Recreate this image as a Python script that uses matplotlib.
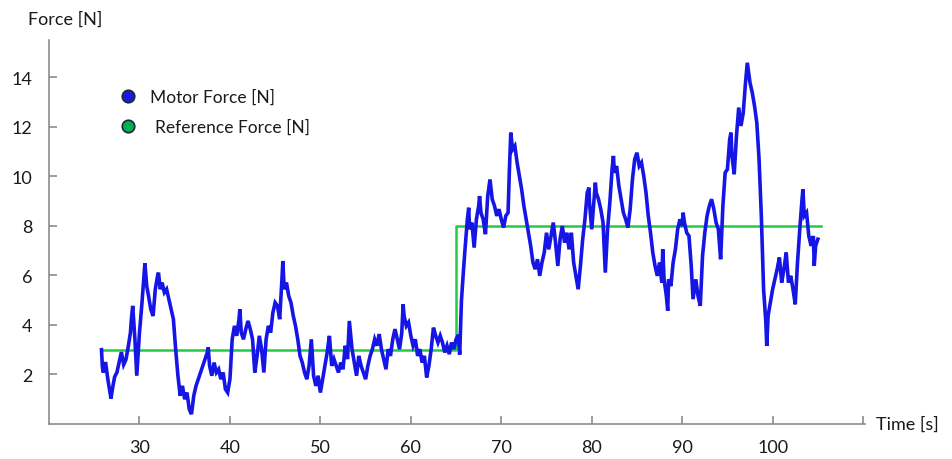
import matplotlib
matplotlib.use("Agg")
import matplotlib.pyplot as plt
from matplotlib.lines import Line2D

plt.rcParams['font.family'] = ['Lato', 'DejaVu Sans']

# ---- data ----
motor_t = [
    25.8, 25.9, 26.0, 26.25, 26.5, 26.85, 27.0, 27.25, 27.5, 27.75, 28.0, 28.25, 28.5, 28.75,
    29.0, 29.1, 29.25, 29.5, 29.7, 30.0, 30.25, 30.5, 30.6, 30.8, 31.0, 31.25, 31.5, 31.75,
    32.0, 32.1, 32.3, 32.5, 32.75, 33.0, 33.25, 33.5, 33.75, 34.0, 34.25, 34.5, 34.75,
    35.0, 35.25, 35.5, 35.75, 36.0, 36.25, 36.5, 36.75, 37.0, 37.25, 37.5, 37.6, 37.75,
    38.0, 38.25, 38.5, 38.75, 39.0, 39.25, 39.5, 39.75, 40.0, 40.25, 40.5, 40.75, 41.0,
    41.1, 41.25, 41.5, 41.75, 42.0, 42.25, 42.5, 42.75, 43.0, 43.25, 43.5, 43.75, 44.0,
    44.25, 44.5, 44.75, 45.0, 45.25, 45.5, 45.75, 45.85, 46.0, 46.25, 46.5, 46.75, 47.0,
    47.25, 47.5, 47.75, 48.0, 48.25, 48.5, 48.75, 49.0, 49.25, 49.5, 49.75, 50.0, 50.25,
    50.5, 50.75, 51.0, 51.25, 51.5, 51.75, 52.0, 52.25, 52.5, 52.75, 53.0, 53.2, 53.5,
    53.75, 54.0, 54.25, 54.5, 54.75, 55.0, 55.25, 55.5, 55.75, 56.0, 56.25, 56.5, 56.75,
    57.0, 57.25, 57.5, 57.75, 58.0, 58.25, 58.5, 58.75, 59.0, 59.15, 59.25, 59.5, 59.75,
    60.0, 60.25, 60.5, 60.75, 61.0, 61.25, 61.5, 61.75, 62.0, 62.25, 62.5, 62.75, 63.0,
    63.25, 63.5, 63.75, 64.0, 64.25, 64.5, 64.75, 65.0, 65.25, 65.4, 65.6, 65.8, 66.0,
    66.25, 66.4, 66.5, 66.75, 67.0, 67.25, 67.5, 67.6, 67.75, 68.0, 68.25, 68.5, 68.75,
    69.0, 69.25, 69.5, 69.75, 70.0, 70.25, 70.5, 70.75, 70.9, 71.05, 71.25, 71.5, 71.75,
    72.0, 72.25, 72.5, 72.75, 73.0, 73.25, 73.5, 73.75, 74.0, 74.25, 74.5, 74.75, 75.0,
    75.25, 75.5, 75.75, 76.0, 76.25, 76.5, 76.75, 77.0, 77.25, 77.5, 77.75, 78.0, 78.25,
    78.5, 78.75, 79.0, 79.25, 79.5, 79.7, 79.75, 80.0, 80.25, 80.4, 80.5, 80.75, 81.0,
    81.25, 81.5, 81.75, 82.0, 82.25, 82.4, 82.5, 82.75, 83.0, 83.25, 83.5, 83.75, 84.0,
    84.25, 84.5, 84.75, 85.0, 85.25, 85.5, 85.75, 86.0, 86.25, 86.5, 86.75, 87.0, 87.25,
    87.5, 87.75, 87.85, 88.0, 88.25, 88.4, 88.5, 88.75, 89.0, 89.25, 89.5, 89.75, 90.0,
    90.1, 90.25, 90.5, 90.75, 91.0, 91.2, 91.5, 91.75, 92.0, 92.25, 92.5, 92.75, 93.0,
    93.25, 93.5, 93.75, 94.0, 94.25, 94.5, 94.75, 95.0, 95.25, 95.4, 95.5, 95.75, 96.0,
    96.25, 96.5, 96.75, 97.0, 97.2, 97.5, 97.75, 98.0, 98.25, 98.5, 98.75, 99.0, 99.25,
    99.35, 99.5, 99.75, 100.0, 100.25, 100.5, 100.75, 101.0, 101.25, 101.5, 101.75, 102.0,
    102.25, 102.5, 102.75, 103.0, 103.25, 103.35, 103.5, 103.75, 104.0, 104.25, 104.5,
    104.6, 104.75, 105.0,
]
motor_force = [
    3.0, 2.3, 2.08, 2.5, 1.81, 1.03, 1.4, 1.9, 2.08, 2.5, 2.9, 2.4, 2.6, 3.1,
    3.69, 4.2, 4.77, 3.4, 1.95, 3.7, 4.77, 5.98, 6.49, 5.57, 5.17, 4.63, 4.36, 5.44,
    5.98, 6.11, 5.44, 5.71, 5.31, 5.44, 5.04, 4.63, 4.23, 3.02, 1.95, 1.14, 1.54,
    1.0, 1.27, 0.6, 0.4, 1.14, 1.54, 1.81, 2.08, 2.35, 2.62, 2.89, 3.09, 2.35,
    1.95, 2.48, 2.08, 2.21, 1.81, 2.08, 1.41, 1.27, 1.81, 3.42, 3.96, 3.56, 4.23,
    4.63, 3.69, 3.42, 3.83, 4.16, 3.83, 3.42, 2.08, 2.75, 3.56, 3.02, 2.08, 3.42,
    3.96, 3.69, 4.5, 4.9, 4.77, 4.23, 5.84, 6.58, 5.44, 5.71, 5.17, 4.9, 4.37,
    3.96, 3.42, 2.75, 2.48, 2.08, 1.81, 2.35, 3.42, 1.95, 1.54, 1.95, 1.27, 1.81,
    2.35, 2.89, 3.56, 2.35, 2.62, 2.35, 2.08, 2.48, 2.21, 3.16, 2.62, 4.16, 3.02,
    2.48, 1.95, 2.75, 2.35, 2.08, 1.81, 2.35, 2.75, 3.02, 3.42, 3.16, 3.63, 3.02,
    2.62, 2.21, 3.02, 2.75, 3.42, 3.83, 3.42, 3.02, 3.69, 4.83, 4.37, 3.96, 4.1,
    3.56, 3.16, 3.42, 2.75, 3.02, 2.48, 2.75, 1.88, 2.35, 3.02, 3.89, 3.56, 3.29,
    3.56, 3.29, 2.89, 3.16, 2.82, 3.29, 3.02, 3.42, 3.6, 2.8, 5.0, 6.1, 7.1,
    8.26, 8.73, 7.86, 8.13, 7.12, 8.26, 8.8, 9.2, 8.53, 8.26, 7.66, 9.2, 9.87,
    9.07, 8.8, 8.4, 8.67, 8.26, 7.93, 8.4, 8.53, 10.28, 11.76, 11.08, 11.22, 10.55,
    10.01, 9.47, 8.8, 8.26, 7.72, 7.19, 6.52, 6.25, 6.65, 5.98, 6.52, 6.92, 7.72,
    7.05, 7.59, 8.13, 7.32, 6.38, 7.46, 7.99, 7.32, 7.72, 7.05, 7.72, 6.52, 5.98,
    5.44, 6.38, 7.46, 8.26, 9.34, 9.54, 8.93, 7.86, 9.07, 9.74, 9.34, 9.07, 8.67,
    8.13, 6.11, 7.86, 8.93, 10.28, 10.82, 10.14, 10.41, 9.61, 9.07, 8.53, 8.26, 7.93,
    8.67, 9.87, 10.68, 10.95, 10.41, 10.55, 10.01, 9.34, 8.4, 7.72, 6.92, 6.38, 5.98,
    6.52, 5.71, 7.05, 5.84, 5.17, 4.57, 5.84, 5.57, 6.52, 7.05, 7.86, 8.26, 7.99,
    8.53, 8.13, 7.72, 7.59, 6.38, 5.04, 5.84, 5.17, 4.77, 6.78, 7.72, 8.4, 8.8,
    9.07, 8.67, 8.13, 7.86, 6.65, 8.8, 10.14, 10.28, 11.49, 11.76, 10.82, 10.08, 11.62,
    12.77, 12.03, 12.56, 13.77, 14.58, 13.77, 13.37, 12.83, 12.16, 10.68, 8.4, 5.44, 4.1,
    3.15, 4.37, 4.9, 5.44, 5.84, 6.25, 6.72, 5.71, 6.25, 6.92, 5.71, 5.98,
    5.44, 4.83, 6.52, 7.86, 9.07, 9.47, 8.4, 8.53, 7.59, 7.19, 7.59,
    6.38, 7.19, 7.46,
]
ref_t = [26.0, 65.0, 65.0, 105.3]
ref_force = [3.0, 3.0, 8.0, 8.0]

x_ticks = [30, 40, 50, 60, 70, 80, 90, 100]
y_ticks = [2, 4, 6, 8, 10, 12, 14]
legend_labels = ["Motor Force [N]", "Reference Force [N]"]

# ---- figure ----
fig = plt.figure(figsize=(9.52, 4.6), dpi=100)
ax = fig.add_axes([0.0515, 0.076, 0.857, 0.835])

ax.plot(motor_t, motor_force, color="#1515e6", lw=2.6, zorder=3,
        solid_joinstyle="miter")
ax.plot(ref_t, ref_force, color="#22cc44", lw=1.8, zorder=2)

ax.set_xlim(20, 110.2)
ax.set_ylim(0, 15.5)
ax.set_xticks(x_ticks + [110])
ax.set_xticklabels([str(v) for v in x_ticks] + [""])
ax.set_yticks(y_ticks)
ax.set_yticklabels([str(v) for v in y_ticks])

for s in ["top", "right"]:
    ax.spines[s].set_visible(False)
for s in ["left", "bottom"]:
    ax.spines[s].set_color("#8c8c8c")
    ax.spines[s].set_linewidth(1.2)

ax.tick_params(axis="both", direction="in", length=6, width=1.2, color="#8c8c8c",
               labelsize=13, labelcolor="#1a1a1a")
ax.tick_params(axis="x", pad=11)
ax.tick_params(axis="y", pad=12)

fig.text(28 / 952, 1 - 20 / 460, "Force [N]", fontsize=13, color="#1a1a1a",
         ha="left", va="center")
fig.text(876 / 952, 1 - 425 / 460, "Time [s]", fontsize=13, color="#1a1a1a",
         ha="left", va="center")

# manual legend
colors = ["#1a1adc", "#00b050"]
ys = [97, 127]
xs_text = [150, 155]
for lab, c, yy, xt in zip(legend_labels, colors, ys, xs_text):
    fig.add_artist(Line2D([128 / 952], [1 - yy / 460], transform=fig.transFigure,
                          marker="o", markersize=9, markerfacecolor=c,
                          markeredgecolor="#1c2a40", markeredgewidth=1.2, linestyle="none"))
    fig.text(xt / 952, 1 - (yy + 1) / 460, lab, fontsize=12.5, color="#1a1a1a",
             ha="left", va="center")

fig.savefig("out.png", dpi=100)
